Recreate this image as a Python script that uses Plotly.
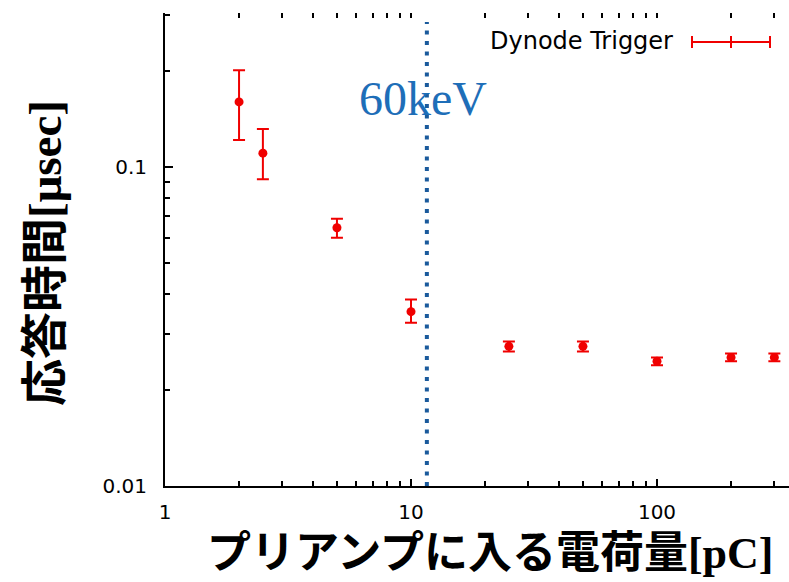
import plotly.graph_objects as go

# ---- data ----
x_charge = [2, 2.5, 5, 10, 25, 50, 100, 200, 300]            # pC
y_time = [0.160, 0.1105, 0.0645, 0.0352, 0.0274, 0.0274, 0.0246, 0.0253, 0.0253]  # usec
err_plus = [0.041, 0.021, 0.0043, 0.0032, 0.0010, 0.0010, 0.0007, 0.0007, 0.0007]
err_minus = [0.0385, 0.019, 0.0045, 0.0027, 0.0010, 0.0010, 0.0007, 0.0007, 0.0007]
series_name = "Dynode Trigger"

threshold_x = [11.6, 11.6]
threshold_y = [0.01, 0.285]
threshold_label = "60keV"

x_tick_vals = [1, 10, 100]
x_tick_text = ["1", "10", "100"]
y_tick_vals = [0.01, 0.1]
y_tick_text = ["0.01", "0.1"]
x_minor_vals = [k * 10 ** d for d in range(0, 3) for k in range(2, 10)]
y_minor_vals = [k * 10.0 ** d for d in (-2, -1) for k in range(2, 10)]

x_title = "プリアンプに入る電荷量[pC]"
y_title = "応答時間[μsec]"

# ---- figure geometry (pixels) ----
W, H = 789, 582
L, R, T, B = 165, 0, 13, 96
PW, PH = W - L - R, H - T - B


def px(xp):
    return (xp - L) / PW


def py(yp):
    return (H - B - yp) / PH


RED = "#f00000"
tick_font = dict(family="DejaVu Sans", size=20, color="black")

fig = go.Figure()

fig.add_trace(go.Scatter(
    x=threshold_x, y=threshold_y, mode="lines",
    line=dict(color="#1a5a9c", width=4, dash="4px,6.5px"),
    showlegend=False, hoverinfo="skip"))

fig.add_trace(go.Scatter(
    x=x_charge, y=y_time, mode="markers", name=series_name,
    marker=dict(color=RED, size=9, symbol="circle"),
    error_y=dict(type="data", symmetric=False, array=err_plus, arrayminus=err_minus,
                 color=RED, thickness=2, width=6),
    showlegend=False))

# invisible trace to carry the top tick axis
fig.add_trace(go.Scatter(x=[x_charge[0]], y=[y_time[0]], xaxis="x2", mode="markers",
                         marker=dict(opacity=0), showlegend=False, hoverinfo="skip"))

fig.update_layout(
    width=W, height=H,
    margin=dict(l=L, r=R, t=T, b=B),
    paper_bgcolor="white", plot_bgcolor="white",
    xaxis=dict(type="log", range=[0, PW / 246.0], showline=True, linecolor="black", linewidth=2,
               showgrid=False, zeroline=False,
               tickmode="array", tickvals=x_tick_vals, ticktext=x_tick_text,
               ticks="inside", ticklen=7, tickwidth=2, tickcolor="black",
               tickfont=tick_font, ticklabelstandoff=7,
               minor=dict(tickvals=x_minor_vals, ticks="inside", ticklen=5, tickwidth=2,
                          tickcolor="black", showgrid=False)),
    xaxis2=dict(type="log", overlaying="x", side="top", matches="x", showline=False,
                showgrid=False, zeroline=False, showticklabels=False,
                tickmode="array", tickvals=x_tick_vals + x_minor_vals,
                ticks="inside", ticklen=5, tickwidth=2, tickcolor="black"),
    yaxis=dict(type="log", range=[-2, -2 + PH / 319.0], showline=True, linecolor="black", linewidth=2,
               showgrid=False, zeroline=False,
               tickmode="array", tickvals=y_tick_vals, ticktext=y_tick_text,
               ticks="inside", ticklen=8, tickwidth=2, tickcolor="black",
               tickfont=tick_font, ticklabelstandoff=12,
               minor=dict(tickvals=y_minor_vals, ticks="inside", ticklen=5, tickwidth=2,
                          tickcolor="black", showgrid=False)),
)

annotations = [
    dict(text=threshold_label, x=px(423), y=py(98), xref="paper", yref="paper",
         xanchor="center", yanchor="middle", showarrow=False,
         font=dict(family="Liberation Serif", size=48, color="#1e6eb8")),
    dict(text=series_name, x=px(675), y=py(41), xref="paper", yref="paper",
         xanchor="right", yanchor="middle", showarrow=False,
         font=dict(family="DejaVu Sans", size=24, color="black")),
    dict(text=y_title, x=px(45), y=py(253), xref="paper", yref="paper",
         xanchor="center", yanchor="middle", showarrow=False, textangle=-90,
         font=dict(family="Liberation Serif, Noto Sans CJK JP", size=47, color="black", weight="bold")),
    dict(text=x_title, x=px(490), y=py(553), xref="paper", yref="paper",
         xanchor="center", yanchor="middle", showarrow=False,
         font=dict(family="Liberation Serif, Noto Sans CJK JP", size=44, color="black", weight="bold")),
]
fig.update_layout(annotations=annotations)

# legend sample: horizontal error bar
ly = py(42)
cap = 6.0 / PH
shapes = [dict(type="line", xref="paper", yref="paper", x0=px(692), x1=px(770), y0=ly, y1=ly,
               line=dict(color=RED, width=2))]
for xc in (692, 731, 770):
    shapes.append(dict(type="line", xref="paper", yref="paper", x0=px(xc), x1=px(xc),
                       y0=ly - cap, y1=ly + cap, line=dict(color=RED, width=2)))
fig.update_layout(shapes=shapes)

fig.write_html("out.html")
